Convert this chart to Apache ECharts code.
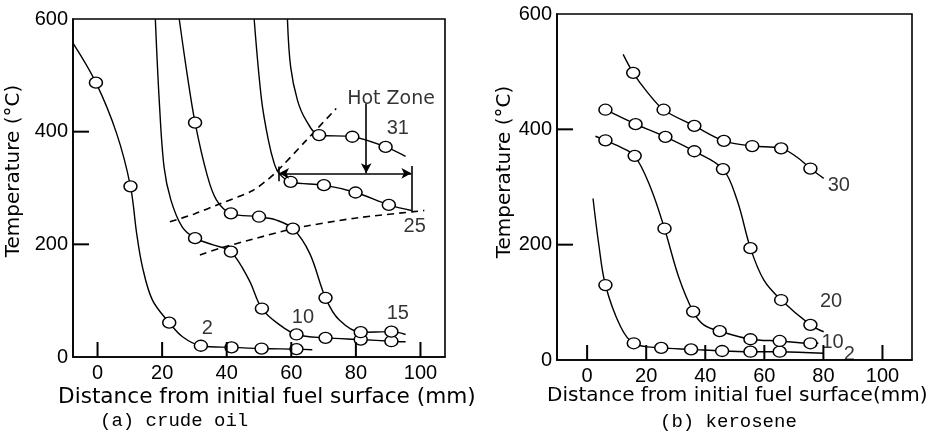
<!DOCTYPE html>
<html><head><meta charset="utf-8">
<script src="https://cdn.jsdelivr.net/npm/echarts@6/dist/echarts.min.js"></script>
<style>html,body{margin:0;padding:0;background:#fff}#c{width:940px;height:431px}</style>
</head><body><div id="c"></div>
<script>
// ---- axis ticks / labels ----
const xTickValues = [0, 20, 40, 60, 80, 100];
const yLabelValues = [0, 200, 400, 600];
const yTickValues = [200, 400];
const xRanges = [[-7.6, 107.6], [-10.2, 110]];

// ---- (a) crude oil : traced curves and measured points [distance mm, temperature C] ----
const crude2Curve = [[-7.6,557],[-0.5,487],[5.9,397],[10.2,303],[12.1,220],[13.9,160],[17,101],[22.2,61],[26.3,36],[32,20],[41.5,17],[50.8,15],[61.6,14],[66.5,13]];
const crude2Pts = [[-0.5,487],[10.2,303],[22.2,61],[32,20],[41.5,17],[50.8,15],[61.6,14]];
const crude10Curve = [[17.9,600],[19.1,456],[20.6,337],[22.7,279],[26.2,231],[30.2,211],[35.8,199],[41.3,187],[46.9,137],[50.9,86],[56.4,57],[61.6,40],[70.6,34],[81.5,31],[91,28],[95.4,27]];
const crude10Pts = [[30.2,211],[41.3,187],[50.9,86],[61.6,40],[70.6,34],[81.5,31],[91,28]];
const crude15Curve = [[25.3,600],[27.8,500],[30.2,416],[33.8,326],[36.8,279],[41.3,255],[50,249],[55.4,243],[60.5,228],[65.7,184],[70.6,105],[74.8,66],[81.5,44],[91,45],[95.4,40]];
const crude15Pts = [[30.2,416],[41.3,255],[50,249],[60.5,228],[70.6,105],[81.5,44],[91,45]];
const crude25Curve = [[48.5,600],[50.8,456],[52.9,385],[54.7,344],[56.2,326],[59.8,311],[70.1,305],[79.9,292],[90.2,270],[97.2,260]];
const crude25Pts = [[59.8,311],[70.1,305],[79.9,292],[90.2,270]];
const crude31Curve = [[58.8,600],[59.8,515],[61.9,456],[64.5,421],[68.6,394],[78.9,391],[89.2,373],[95.4,356]];
const crude31Pts = [[68.6,394],[78.9,391],[89.2,373]];
const crudeLabelNames = ['2', '10', '15', '25', '31'];
const crudeLabelAt = [[34,51],[63.6,70],[93,77],[98.2,231],[93,406]];
// hot zone boundaries (dashed) and span
const hotUpper = [[22.4,240],[30,254],[37.9,272],[48.2,296],[54.9,326],[64.7,385],[73.9,441]];
const hotLower = [[31.7,181],[37.9,193],[48,209],[60.7,228],[79.1,246],[101.2,260]];
const hotSpan = [56.2, 97.2, 326];      // from, to, temperature
const hotArrowX = 83.2, hotArrowTop = 450;
const hotLabel = 'Hot Zone', hotLabelAt = [90.9, 458];

// ---- (b) kerosene ----
const kero2Curve = [[2,280],[3.9,202],[6.2,130],[11.3,58],[15.8,29],[25.1,21],[35.2,18.5],[45.7,15.6],[55.3,14.4],[65.2,14.4],[80.1,11.6]];
const kero2Pts = [[6.2,130],[15.8,29],[25.1,21],[35.2,18.5],[45.7,15.6],[55.3,14.4],[65.2,14.4]];
const kero10Curve = [[2.8,388],[6.2,381],[11,370],[16.1,354],[21.4,300],[26.2,228],[31,144],[35.9,84],[39.5,61],[44.9,50],[55.3,36],[65.2,33],[75.6,29],[78.3,29]];
const kero10Pts = [[6.2,381],[16.1,354],[26.2,228],[35.9,84],[44.9,50],[55.3,36],[65.2,33],[75.6,29]];
const kero20Curve = [[6.2,434],[16.4,409],[26.5,387],[36.3,362],[46,331],[50.8,277],[55.3,194],[59.8,139],[65.7,104],[75.6,61],[80.1,49]];
const kero20Pts = [[6.2,434],[16.4,409],[26.5,387],[36.3,362],[46,331],[55.3,194],[65.7,104],[75.6,61]];
const kero30Curve = [[12.2,530],[15.6,498],[20.3,465],[25.9,434],[36.3,406],[46.3,380],[55.9,371],[65.7,367],[71,352],[75.6,332],[80.1,315]];
const kero30Pts = [[15.6,498],[25.9,434],[36.3,406],[46.3,380],[55.9,371],[65.7,367],[75.6,332]];
const keroLabelNames = ['30', '20', '10', '2'];
const keroLabelAt = [[85.2,303],[82.6,101],[83.1,31],[88.8,10]];

const INK = '#000';

function curve(gi, data) {
  return { type: 'line', xAxisIndex: gi, yAxisIndex: gi, data: data, smooth: 0.35,
    symbol: 'none', lineStyle: { color: INK, width: 1.4 }, z: 2, silent: true };
}
function pts(gi, data) {
  return { type: 'scatter', xAxisIndex: gi, yAxisIndex: gi, data: data, symbol: 'circle',
    symbolSize: [13, 11], itemStyle: { color: '#fff', borderColor: INK, borderWidth: 1.4, opacity: 1 }, z: 4, silent: true };
}
function dashed(gi, data) {
  return { type: 'line', xAxisIndex: gi, yAxisIndex: gi, data: data, smooth: 0.25,
    symbol: 'none', lineStyle: { color: INK, width: 1.6, type: [7, 5] }, z: 1, silent: true };
}
function labels(gi, names, at, size, font) {
  return { type: 'scatter', xAxisIndex: gi, yAxisIndex: gi, symbolSize: 1,
    itemStyle: { color: 'rgba(0,0,0,0)' }, z: 5, silent: true,
    data: names.map((n, i) => ({ name: n, value: at[i] })),
    label: { show: true, position: 'inside', formatter: '{b}', color: INK,
      textBorderWidth: 0, textBorderColor: 'transparent',
      fontFamily: font || 'Liberation Sans', fontSize: size || 20 } };
}

function xAxisCfg(gi) {
  return { type: 'value', gridIndex: gi, min: xRanges[gi][0], max: xRanges[gi][1], splitLine: { show: false },
    axisLine: { show: true, onZero: false, lineStyle: { color: INK, width: 1.6 } },
    axisTick: { show: false },
    axisLabel: { customValues: xTickValues, margin: 6, color: INK, fontFamily: 'Liberation Sans', fontSize: 20 } };
}
function yAxisCfg(gi) {
  return { type: 'value', gridIndex: gi, min: 0, max: 600, splitLine: { show: false },
    axisLine: { show: true, onZero: false, lineStyle: { color: INK, width: 1.6 } },
    axisTick: { show: false },
    axisLabel: { customValues: yLabelValues, margin: 5, color: INK, fontFamily: 'Liberation Sans', fontSize: 20 } };
}

const series = [
  dashed(0, hotUpper), dashed(0, hotLower),
  curve(0, crude2Curve), curve(0, crude10Curve), curve(0, crude15Curve), curve(0, crude25Curve), curve(0, crude31Curve),
  pts(0, crude2Pts), pts(0, crude10Pts), pts(0, crude15Pts), pts(0, crude25Pts), pts(0, crude31Pts),
  labels(0, crudeLabelNames, crudeLabelAt),
  labels(0, [hotLabel], [hotLabelAt], 19, 'DejaVu Sans'),
  curve(1, kero2Curve), curve(1, kero10Curve), curve(1, kero20Curve), curve(1, kero30Curve),
  pts(1, kero2Pts), pts(1, kero10Pts), pts(1, kero20Pts), pts(1, kero30Pts),
  labels(1, keroLabelNames, keroLabelAt)
];
series[0].markLine = {
  silent: true, animation: false, symbolSize: [8, 10],
  label: { show: false },
  lineStyle: { color: INK, width: 1.6, type: 'solid' },
  data: [
    [{ coord: [hotSpan[0], hotSpan[2]], symbol: 'arrow' }, { coord: [hotSpan[1], hotSpan[2]], symbol: 'arrow' }],
    [{ coord: [hotArrowX, hotArrowTop], symbol: 'none' }, { coord: [hotArrowX, hotSpan[2]], symbol: 'arrow' }],
    [{ coord: [hotSpan[0], 338], symbol: 'none' }, { coord: [hotSpan[0], 312], symbol: 'none' }],
    [{ coord: [hotSpan[1], 339], symbol: 'none' }, { coord: [hotSpan[1], 258], symbol: 'none' }]
  ]
};

const titleFont = '20px "DejaVu Sans"';
const subFont = '19px "Liberation Mono"';
const texts = [
  { type: 'text', x: 14, y: 171, rotation: Math.PI / 2, style: { text: 'Temperature (°C)', font: titleFont, fill: INK, textAlign: 'center', textVerticalAlign: 'middle' } },
  { type: 'text', x: 505, y: 172, rotation: Math.PI / 2, style: { text: 'Temperature (°C)', font: titleFont, fill: INK, textAlign: 'center', textVerticalAlign: 'middle' } },
  { type: 'text', x: 58, y: 397, style: { text: 'Distance from initial fuel surface (mm)', font: '21.6px "DejaVu Sans"', fill: INK, textAlign: 'left', textVerticalAlign: 'middle' } },
  { type: 'text', x: 547, y: 396, style: { text: 'Distance from initial fuel surface(mm)', font: titleFont, fill: INK, textAlign: 'left', textVerticalAlign: 'middle' } },
  { type: 'text', x: 100, y: 421, style: { text: '(a) crude oil', font: subFont, fill: INK, textAlign: 'left', textVerticalAlign: 'middle' } },
  { type: 'text', x: 660, y: 422, style: { text: '(b) kerosene', font: subFont, fill: INK, textAlign: 'left', textVerticalAlign: 'middle' } }
];

const chart = echarts.init(document.getElementById('c'));
chart.setOption({
  animation: false,
  backgroundColor: '#fff',
  grid: [
    { left: 73, top: 19, width: 372, height: 338, show: true, borderColor: INK, borderWidth: 1.6 },
    { left: 557, top: 14, width: 355, height: 346, show: true, borderColor: INK, borderWidth: 1.6 }
  ],
  xAxis: [xAxisCfg(0), xAxisCfg(1)],
  yAxis: [yAxisCfg(0), yAxisCfg(1)],
  series: series,
  graphic: texts
});

// inward tick marks, placed through the axes' own scales
const ticks = [];
[0, 1].forEach(function (gi) {
  xTickValues.forEach(function (v) {
    const p = chart.convertToPixel({ gridIndex: gi }, [v, 0]);
    ticks.push({ type: 'line', z: 10, silent: true, shape: { x1: p[0], y1: p[1], x2: p[0], y2: p[1] - 15 },
      style: { stroke: INK, lineWidth: 2 } });
  });
  yTickValues.forEach(function (v) {
    const p = chart.convertToPixel({ gridIndex: gi }, [xRanges[gi][0], v]);
    ticks.push({ type: 'line', z: 10, silent: true, shape: { x1: p[0], y1: p[1], x2: p[0] + 16, y2: p[1] },
      style: { stroke: INK, lineWidth: 2 } });
  });
});
chart.setOption({ graphic: texts.concat(ticks) });
</script></body></html>
